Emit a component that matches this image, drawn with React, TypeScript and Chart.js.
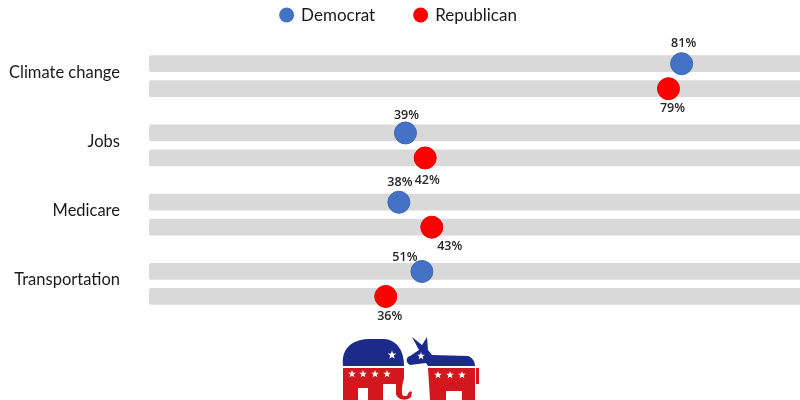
import { useEffect, useRef } from "react";
import { Chart, registerables } from "chart.js";

Chart.register(...registerables);

// ---------- data ----------
const categories = ["Climate change", "Jobs", "Medicare", "Transportation"];
const seriesNames = ["Democrat", "Republican"];
// printed percentages
const democratLabels = [81, 39, 38, 51];
const republicanLabels = [79, 42, 43, 36];
// where the dots sit on the 0-100 track
const democratPlotted = [81, 39, 38, 41.5];
const republicanPlotted = [79, 42, 43, 36];
const trackFull = 100;

// ---------- styling ----------
const BLUE = "#4472C4";
const RED = "#FF0000";
const GROUP_PITCH = 2.77; // group spacing on the y scale
const demRow = (g: number) => g * GROUP_PITCH;
const repRow = (g: number) => g * GROUP_PITCH + 1;

const demLabelDx = [2, 1, 1, -17];
const demLabelDy = [-20, -18, -20, -14];
const repLabelDx = [4, 2, 18, 4];
const repLabelDy = [20, 22, 19, 20];

function drawStar(ctx: CanvasRenderingContext2D, cx: number, cy: number, r: number, color: string) {
  ctx.beginPath();
  for (let i = 0; i < 10; i++) {
    const ang = -Math.PI / 2 + (i * Math.PI) / 5;
    const rr = i % 2 === 0 ? r : r * 0.42;
    const x = cx + Math.cos(ang) * rr;
    const y = cy + Math.sin(ang) * rr;
    if (i === 0) ctx.moveTo(x, y);
    else ctx.lineTo(x, y);
  }
  ctx.closePath();
  ctx.fillStyle = color;
  ctx.fill();
}

const legendPlugin = {
  id: "customLegend",
  afterDraw(chart: any) {
    const ctx = chart.ctx as CanvasRenderingContext2D;
    ctx.save();
    ctx.font = "17px Lato";
    ctx.textBaseline = "middle";
    ctx.textAlign = "left";
    const colors = [BLUE, RED];
    const r = 7.5;
    const gap = 7;
    const itemGap = 38;
    const widths = seriesNames.map((n) => ctx.measureText(n).width);
    const total = widths.reduce((a, w) => a + w + 2 * r + gap, 0) + itemGap;
    let x = 398 - total / 2;
    const y = 15;
    seriesNames.forEach((n, i) => {
      ctx.beginPath();
      ctx.arc(x + r, y, r, 0, Math.PI * 2);
      ctx.fillStyle = colors[i];
      ctx.fill();
      ctx.fillStyle = "#1a1a1a";
      ctx.fillText(n, x + 2 * r + gap, y + 1);
      x += 2 * r + gap + widths[i] + itemGap;
    });
    ctx.restore();
  },
};

const valueLabelPlugin = {
  id: "valueLabels",
  afterDatasetsDraw(chart: any) {
    const ctx = chart.ctx as CanvasRenderingContext2D;
    ctx.save();
    ctx.font = "600 12.5px 'Open Sans'";
    ctx.fillStyle = "#262626";
    ctx.textAlign = "center";
    ctx.textBaseline = "middle";
    const dem = chart.getDatasetMeta(1);
    const rep = chart.getDatasetMeta(2);
    dem.data.forEach((pt: any, j: number) => {
      ctx.fillText(democratLabels[j] + "%", pt.x + demLabelDx[j], pt.y + demLabelDy[j]);
    });
    rep.data.forEach((pt: any, j: number) => {
      ctx.fillText(republicanLabels[j] + "%", pt.x + repLabelDx[j], pt.y + repLabelDy[j]);
    });
    ctx.restore();
  },
};

const logoPlugin = {
  id: "partyLogo",
  afterDraw(chart: any) {
    const ctx = chart.ctx as CanvasRenderingContext2D;
    const NAVY = "#1c2a8c";
    const LRED = "#d2181e";
    ctx.save();
    // Elephant: blue dome
    ctx.fillStyle = NAVY;
    ctx.beginPath();
    ctx.moveTo(343, 366);
    ctx.bezierCurveTo(341, 350, 350, 340, 368, 339);
    ctx.lineTo(384, 339);
    ctx.bezierCurveTo(398, 340, 404, 352, 404, 366);
    ctx.closePath();
    ctx.fill();
    drawStar(ctx, 392, 355, 4.5, "#fff");
    // Elephant: red body
    ctx.fillStyle = LRED;
    ctx.beginPath();
    ctx.moveTo(343, 368);
    ctx.lineTo(404, 368);
    ctx.lineTo(404, 378);
    ctx.bezierCurveTo(402, 386, 401, 392, 403, 396);
    ctx.lineTo(407, 396);
    ctx.bezierCurveTo(408, 393, 410, 390, 412, 392);
    ctx.lineTo(411, 397);
    ctx.bezierCurveTo(407, 401, 398, 401, 396, 394);
    ctx.lineTo(396, 384);
    ctx.lineTo(383, 384);
    ctx.lineTo(383, 400);
    ctx.lineTo(368, 400);
    ctx.lineTo(368, 388);
    ctx.lineTo(358, 388);
    ctx.lineTo(358, 400);
    ctx.lineTo(343, 400);
    ctx.closePath();
    ctx.fill();
    [352, 363, 375, 387].forEach((sx) => drawStar(ctx, sx, 374, 4, "#fff"));
    // Donkey: ears + head + back
    ctx.fillStyle = NAVY;
    ctx.beginPath();
    ctx.moveTo(419, 350);
    ctx.lineTo(412, 337);
    ctx.lineTo(422, 345);
    ctx.lineTo(427, 337);
    ctx.lineTo(428, 350);
    ctx.lineTo(432, 355);
    ctx.lineTo(468, 356);
    ctx.bezierCurveTo(473, 358, 475, 362, 475, 366);
    ctx.lineTo(428, 366);
    ctx.lineTo(426, 363);
    ctx.lineTo(410, 365);
    ctx.bezierCurveTo(405, 362, 406, 357, 410, 356);
    ctx.closePath();
    ctx.fill();
    drawStar(ctx, 421, 356, 4, "#fff");
    // Donkey: red body
    ctx.fillStyle = LRED;
    ctx.beginPath();
    ctx.moveTo(428, 368);
    ctx.lineTo(475, 368);
    ctx.lineTo(475, 400);
    ctx.lineTo(462, 400);
    ctx.lineTo(462, 391);
    ctx.lineTo(446, 391);
    ctx.lineTo(446, 400);
    ctx.lineTo(430, 400);
    ctx.closePath();
    ctx.fill();
    ctx.fillRect(476, 368, 3, 16);
    [438, 450, 462].forEach((sx) => drawStar(ctx, sx, 375, 4, "#fff"));
    ctx.restore();
  },
};

export default function App() {
  const canvasRef = useRef<HTMLCanvasElement | null>(null);

  useEffect(() => {
    const canvas = canvasRef.current;
    if (!canvas) return;

    const trackRows: number[] = [];
    categories.forEach((_, g) => {
      trackRows.push(demRow(g), repRow(g));
    });

    const chart = new Chart(canvas, {
      type: "bar",
      data: {
        datasets: [
          {
            type: "bar",
            label: "track",
            order: 10,
            data: trackRows.map((r) => ({ x: [0, trackFull], y: r })) as any,
            backgroundColor: "#d9d9d9",
            borderWidth: 0,
            borderSkipped: false,
            borderRadius: 3,
            barThickness: 16,
          } as any,
          {
            type: "line",
            label: seriesNames[0],
            order: 1,
            data: democratPlotted.map((v, g) => ({ x: v, y: demRow(g) })),
            showLine: false,
            pointRadius: 11,
            pointHoverRadius: 11,
            pointBackgroundColor: BLUE,
            pointBorderColor: "#3f67b3",
            pointBorderWidth: 1,
            backgroundColor: BLUE,
            borderColor: BLUE,
          } as any,
          {
            type: "line",
            label: seriesNames[1],
            order: 1,
            data: republicanPlotted.map((v, g) => ({ x: v, y: repRow(g) })),
            showLine: false,
            pointRadius: 11,
            pointHoverRadius: 11,
            pointBackgroundColor: RED,
            pointBorderColor: "#e80000",
            pointBorderWidth: 1,
            backgroundColor: RED,
            borderColor: RED,
          } as any,
        ],
      },
      options: {
        indexAxis: "y",
        animation: false,
        responsive: false,
        maintainAspectRatio: false,
        layout: { autoPadding: false, padding: { top: 40, left: 0, right: 0, bottom: 0 } },
        plugins: {
          legend: { display: false },
          tooltip: { enabled: false },
        },
        scales: {
          x: {
            type: "linear",
            display: false,
            offset: false,
            min: 0,
            max: 99,
          },
          y: {
            type: "linear",
            reverse: true,
            offset: false,
            min: -0.948,
            max: -0.948 + 360 / 25,
            grid: { display: false, offset: false, drawTicks: false },
            border: { display: false },
            afterBuildTicks: (scale: any) => {
              scale.ticks = categories.map((_, g) => ({ value: g * GROUP_PITCH + 0.34 }));
            },
            afterFit: (scale: any) => {
              scale.width = 149;
              scale.paddingTop = 0;
              scale.paddingBottom = 0;
            },
            ticks: {
              autoSkip: false,
              padding: 29,
              color: "#1a1a1a",
              font: { family: "Lato", size: 16.5 },
              callback: (_v: any, i: number) => categories[i],
            },
          },
        },
      } as any,
      plugins: [valueLabelPlugin, legendPlugin, logoPlugin],
    });

    return () => chart.destroy();
  }, []);

  return (
    <div style={{ position: "fixed", left: 0, top: 0, width: 800, height: 400, background: "#fff" }}>
      <canvas ref={canvasRef} width={800} height={400} style={{ width: 800, height: 400 }} />
    </div>
  );
}
